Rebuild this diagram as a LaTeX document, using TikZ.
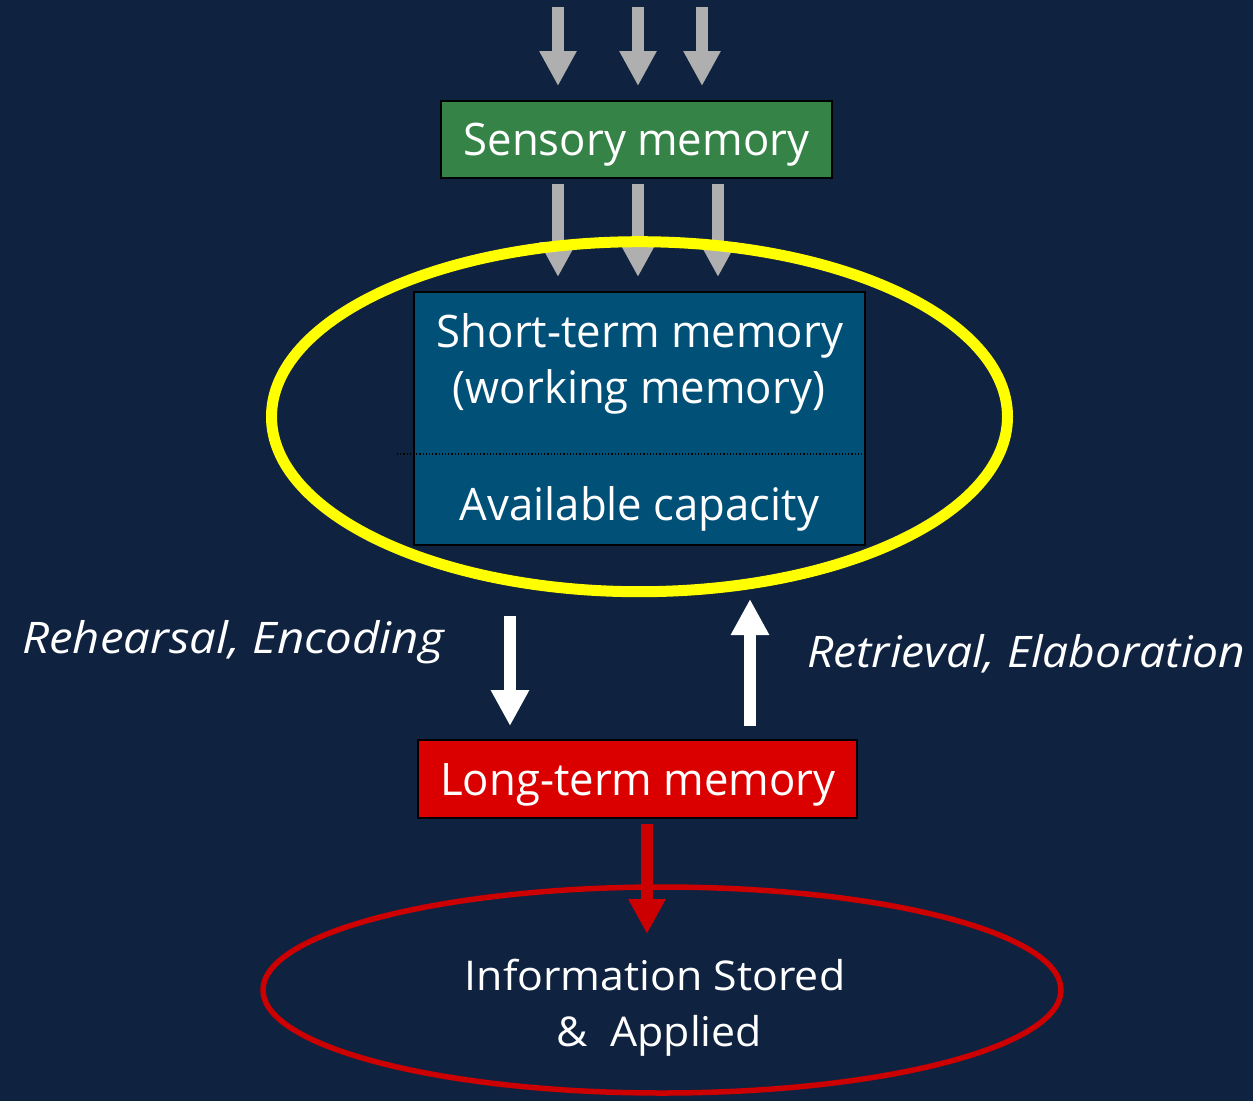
\documentclass[tikz,border=0pt]{standalone}
\usepackage{fontspec}
\setmainfont{Open Sans}
\newfontfamily\mainlblfont[FakeStretch=0.975]{Open Sans}
\newfontfamily\italfonta[FakeStretch=1.09]{Open Sans}
\newfontfamily\italfontb[FakeStretch=1.062]{Open Sans}
\newfontfamily\infofont[FakeStretch=1.045]{Open Sans}
\usetikzlibrary{arrows.meta,shapes.geometric}
\definecolor{bg}{RGB}{15,34,64}
\definecolor{arrowgray}{RGB}{175,175,175}
\definecolor{sensgreen}{RGB}{53,131,71}
\definecolor{stmblue}{RGB}{0,80,120}
\definecolor{ltmred}{RGB}{218,0,0}
\definecolor{darkred}{RGB}{204,0,0}
\definecolor{hiyellow}{RGB}{255,255,0}
\begin{document}
\begin{tikzpicture}[x=1pt,y=-1pt,
  box/.style={draw=black, line width=2pt, inner sep=0pt, rectangle},
  lbl/.style={text=white, inner sep=0pt, anchor=base, font=\mainlblfont\fontsize{44.8}{56}\selectfont},
  ital/.style={text=white, inner sep=0pt, anchor=base west},
  info/.style={text=white, inner sep=0pt, anchor=base, font=\infofont\fontsize{41}{50}\selectfont},
  garrow/.style={draw=arrowgray, line width=12pt, -{Triangle[width=35pt,length=35pt]}},
  warrow/.style={draw=white, line width=12pt, -{Triangle[width=36pt,length=36pt]}},
  rarrow/.style={draw=darkred, line width=12pt, -{Triangle[width=35pt,length=35pt]}},
  ring/.style={ellipse, inner sep=0pt, fill=none}
]
\fill[bg] (0,0) rectangle (1253,1101);
\useasboundingbox (0,0) rectangle (1253,1101);

% boxes
\node[box, fill=sensgreen, minimum width=391pt, minimum height=77pt] (sens) at (636.5,139.5) {};
\node[box, fill=stmblue, minimum width=451pt, minimum height=253pt] (stm) at (639.5,418.5) {};
\node[box, fill=ltmred, minimum width=439pt, minimum height=78pt] (ltm) at (637.5,779) {};

% column coordinates
\coordinate (c1) at (558,0);
\coordinate (c2) at (638,0);
\coordinate (c4) at (718,0);
\coordinate (t1) at (558,7);
\coordinate (t2) at (638,7);
\coordinate (t3) at (702,7);
\coordinate (cd) at (510,0);
\coordinate (cu) at (750,0);
\coordinate (cr) at (647,0);
\coordinate (rtip) at (647,934);

% incoming arrows
\draw[garrow, shorten >=14pt] (t1) -- (t1 |- sens.north);
\draw[garrow, shorten >=14pt] (t2) -- (t2 |- sens.north);
\draw[garrow, shorten >=14pt] (t3) -- (t3 |- sens.north);

% sensory to STM
\draw[garrow, shorten <=5pt, shorten >=14pt] (c1 |- sens.south) -- (c1 |- stm.north);
\draw[garrow, shorten <=5pt, shorten >=14pt] (c2 |- sens.south) -- (c2 |- stm.north);
\draw[garrow, shorten <=5pt, shorten >=14pt] (c4 |- sens.south) -- (c4 |- stm.north);

% yellow ring
\node[ring, draw=hiyellow, line width=11pt, minimum width=736pt, minimum height=350pt] (yring) at (639.5,416.7) {};

% dotted divider
\coordinate (d1) at (397,454);
\coordinate (d2) at (862,454);
\draw[black, line width=1.2pt, dotted] (d1) -- (d2);

% STM <-> LTM
\draw[warrow, shorten <=70pt, shorten >=13pt] (cd |- stm.south) -- (cd |- ltm.north);
\draw[warrow, shorten <=13pt, shorten >=53pt] (cu |- ltm.north) -- (cu |- stm.south);

% red ring and arrow
\node[ring, draw=darkred, line width=5.5pt, minimum width=798pt, minimum height=206pt] (rring) at (662,990) {};
\draw[rarrow, shorten <=5pt] (cr |- ltm.south) -- (rtip);

% texts
\node[lbl] (senst) at (636.5,155) {Sensory memory};
\node[lbl] (stmt1) at (640,347) {Short-term memory};
\node[lbl] (stmt2) at (639,403) {(working memory)};
\node[lbl] (stmt3) at (639.5,520) {Available capacity};
\node[lbl] (ltmt) at (638,795) {Long-term memory};
\node[ital, font=\italfonta\fontsize{43.5}{52}\selectfont\itshape] (rehe) at (22,653) {Rehearsal, Encoding};
\node[ital, font=\italfontb\fontsize{43.5}{52}\selectfont\itshape] (retr) at (807,667) {Retrieval, Elaboration};
\node[info] (inf1) at (655,990) {Information Stored};
\node[info] (inf2) at (659.5,1046) {\&\ \ Applied};
\end{tikzpicture}
\end{document}
